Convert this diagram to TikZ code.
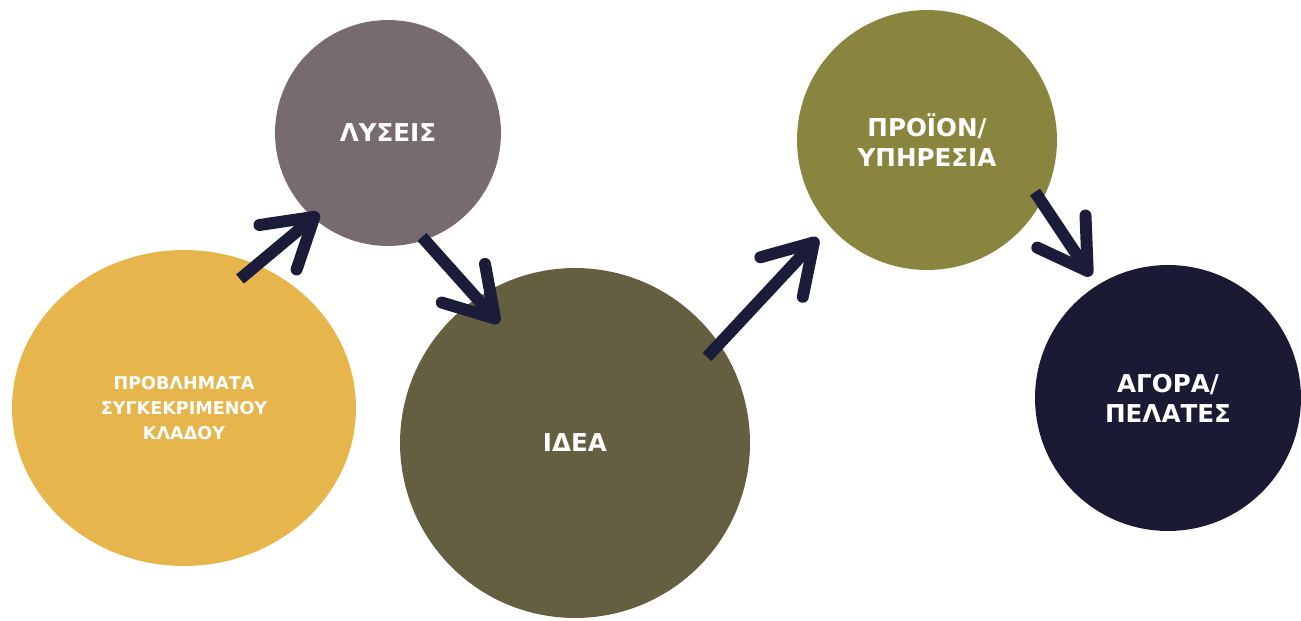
\documentclass[tikz,border=0pt]{standalone}
\usepackage{fontspec}
\setmainfont{DejaVu Sans}
\usetikzlibrary{shapes.geometric,arrows.meta}

\definecolor{probyellow}{HTML}{E6B54B}
\definecolor{solgray}{HTML}{786B6F}
\definecolor{ideaolive}{HTML}{635F40}
\definecolor{prodolive}{HTML}{8A853E}
\definecolor{marketnavy}{HTML}{1A1A35}
\definecolor{arrownavy}{HTML}{1B1B3A}

\begin{document}
\begin{tikzpicture}[x=0.02cm, y=-0.02cm]
		\tikzset{bubble/.style={circle, fill=#1, text=white, font=\bfseries, align=center, inner sep=0pt}};
		\tikzset{flow/.style={draw=arrownavy, line width=6.8pt, -{Straight Barb[length=27pt, width=33pt, round]}}};

		\useasboundingbox (0, 0) rectangle (1301, 620);

		\node[bubble=probyellow, ellipse, minimum width=6.88cm, minimum height=6.32cm, font=\bfseries\fontsize{10}{14}\selectfont] (problems) at (184, 408) {ΠΡΟΒΛΗΜΑΤΑ\\ΣΥΓΚΕΚΡΙΜΕΝΟΥ\\ΚΛΑΔΟΥ};
		\node[bubble=solgray, minimum size=4.52cm, font=\bfseries\fontsize{14}{17}\selectfont] (solutions) at (388, 133) {ΛΥΣΕΙΣ};
		\node[bubble=ideaolive, minimum size=7.0cm, font=\bfseries\fontsize{14}{17}\selectfont] (idea) at (575, 443) {ΙΔΕΑ};
		\node[bubble=prodolive, minimum size=5.2cm, font=\bfseries\fontsize{14}{17}\selectfont] (product) at (927, 140) {ΠΡΟΪΟΝ/\\ΥΠΗΡΕΣΙΑ};
		\node[bubble=marketnavy, minimum size=5.32cm, font=\bfseries\fontsize{14}{17}\selectfont] (market) at (1168, 398) {ΑΓΟΡΑ/\\ΠΕΛΑΤΕΣ};

		\coordinate (s1) at (240, 279);
		\coordinate (e1) at (319, 213);
		\coordinate (s2) at (422, 237);
		\coordinate (e2) at (499, 323);
		\coordinate (s3) at (707, 357);
		\coordinate (e3) at (818, 238);
		\coordinate (s4) at (1035, 192);
		\coordinate (e4) at (1091, 276);

		\draw[flow] (s1) to (e1);
		\draw[flow] (s2) to (e2);
		\draw[flow] (s3) to (e3);
		\draw[flow] (s4) to (e4);

	\end{tikzpicture}
\end{document}
